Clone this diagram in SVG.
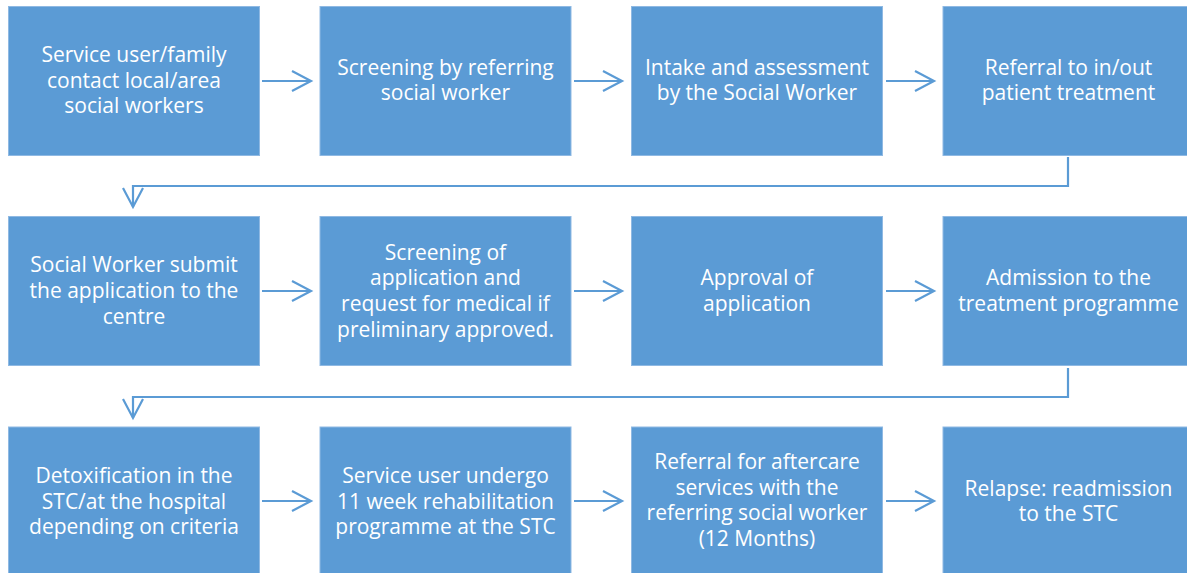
<svg xmlns="http://www.w3.org/2000/svg" width="1187" height="573" viewBox="0 0 1187 573">
  <defs>
    <style>
      .box rect { fill: #5B9BD5; stroke: #8FB9E3; stroke-width: 1; }
      .box text { fill: #FFFFFF; font-family: "Open Sans", "Noto Sans", "Liberation Sans", sans-serif; font-size: 21px; text-anchor: middle; }
      .conn { fill: none; stroke: #5B9BD5; stroke-width: 2.2; stroke-linejoin: miter; }
      .head { fill: none; stroke: #5B9BD5; stroke-width: 2.2; stroke-linecap: butt; stroke-linejoin: miter; }
    </style>
  </defs>
  <rect width="1187" height="573" fill="#FFFFFF"/>

  <!-- Row 1 -->
  <g id="n1" class="box">
    <rect x="8.5" y="6.5" width="251" height="149"/>
    <text x="134" y="62">Service user/family</text>
    <text x="134" y="87.7">contact local/area</text>
    <text x="134" y="113.4">social workers</text>
  </g>
  <g id="n2" class="box">
    <rect x="320" y="6.5" width="251" height="149"/>
    <text x="445.5" y="74.6">Screening by referring</text>
    <text x="445.5" y="100.3">social worker</text>
  </g>
  <g id="n3" class="box">
    <rect x="631.5" y="6.5" width="251" height="149"/>
    <text x="757" y="74.6">Intake and assessment</text>
    <text x="757" y="100.3">by the Social Worker</text>
  </g>
  <g id="n4" class="box">
    <rect x="943" y="6.5" width="251" height="149"/>
    <text x="1068.5" y="74.6">Referral to in/out</text>
    <text x="1068.5" y="100.3">patient treatment</text>
  </g>

  <!-- Row 2 -->
  <g id="n5" class="box">
    <rect x="8.5" y="216.5" width="251" height="149"/>
    <text x="134" y="272.3">Social Worker submit</text>
    <text x="134" y="298">the application to the</text>
    <text x="134" y="323.7">centre</text>
  </g>
  <g id="n6" class="box">
    <rect x="320" y="216.5" width="251" height="149"/>
    <text x="445.5" y="259.5">Screening of</text>
    <text x="445.5" y="285.2">application and</text>
    <text x="445.5" y="310.9">request for medical if</text>
    <text x="445.5" y="336.6">preliminary approved.</text>
  </g>
  <g id="n7" class="box">
    <rect x="631.5" y="216.5" width="251" height="149"/>
    <text x="757" y="285.2">Approval of</text>
    <text x="757" y="310.9">application</text>
  </g>
  <g id="n8" class="box">
    <rect x="943" y="216.5" width="251" height="149"/>
    <text x="1068.5" y="285.2">Admission to the</text>
    <text x="1068.5" y="310.9">treatment programme</text>
  </g>

  <!-- Row 3 -->
  <g id="n9" class="box">
    <rect x="8.5" y="427" width="251" height="149"/>
    <text x="134" y="482.8">Detoxification in the</text>
    <text x="134" y="508.5">STC/at the hospital</text>
    <text x="134" y="534.2">depending on criteria</text>
  </g>
  <g id="n10" class="box">
    <rect x="320" y="427" width="251" height="149"/>
    <text x="445.5" y="482.8">Service user undergo</text>
    <text x="445.5" y="508.5">11 week rehabilitation</text>
    <text x="445.5" y="534.2">programme at the STC</text>
  </g>
  <g id="n11" class="box">
    <rect x="631.5" y="427" width="251" height="149"/>
    <text x="757" y="469">Referral for aftercare</text>
    <text x="757" y="494.7">services with the</text>
    <text x="757" y="520.4">referring social worker</text>
    <text x="757" y="546.1">(12 Months)</text>
  </g>
  <g id="n12" class="box">
    <rect x="943" y="427" width="251" height="149"/>
    <text x="1068.5" y="495.7">Relapse: readmission</text>
    <text x="1068.5" y="521.4">to the STC</text>
  </g>

  <!-- Connectors -->
  <g id="connectors">
    <!-- row 1 -->
    <line class="conn" x1="262" y1="81" x2="311" y2="81"/>
    <polyline class="head" points="292,71 311,81 292,91"/>
    <line class="conn" x1="574" y1="81" x2="622" y2="81"/>
    <polyline class="head" points="603,71 622,81 603,91"/>
    <line class="conn" x1="886" y1="81" x2="934" y2="81"/>
    <polyline class="head" points="915,71 934,81 915,91"/>

    <!-- row 1 to row 2 -->
    <polyline class="conn" points="1068,157 1068,186 133,186 133,207"/>
    <polyline class="head" points="123,188 133,207 143,188"/>

    <!-- row 2 -->
    <line class="conn" x1="262" y1="291" x2="311" y2="291"/>
    <polyline class="head" points="292,281 311,291 292,301"/>
    <line class="conn" x1="574" y1="291" x2="622" y2="291"/>
    <polyline class="head" points="603,281 622,291 603,301"/>
    <line class="conn" x1="886" y1="291" x2="934" y2="291"/>
    <polyline class="head" points="915,281 934,291 915,301"/>

    <!-- row 2 to row 3 -->
    <polyline class="conn" points="1068,368 1068,397 133,397 133,418"/>
    <polyline class="head" points="123,399 133,418 143,399"/>

    <!-- row 3 -->
    <line class="conn" x1="262" y1="501" x2="311" y2="501"/>
    <polyline class="head" points="292,491 311,501 292,511"/>
    <line class="conn" x1="574" y1="501" x2="622" y2="501"/>
    <polyline class="head" points="603,491 622,501 603,511"/>
    <line class="conn" x1="886" y1="501" x2="934" y2="501"/>
    <polyline class="head" points="915,491 934,501 915,511"/>
  </g>
</svg>
